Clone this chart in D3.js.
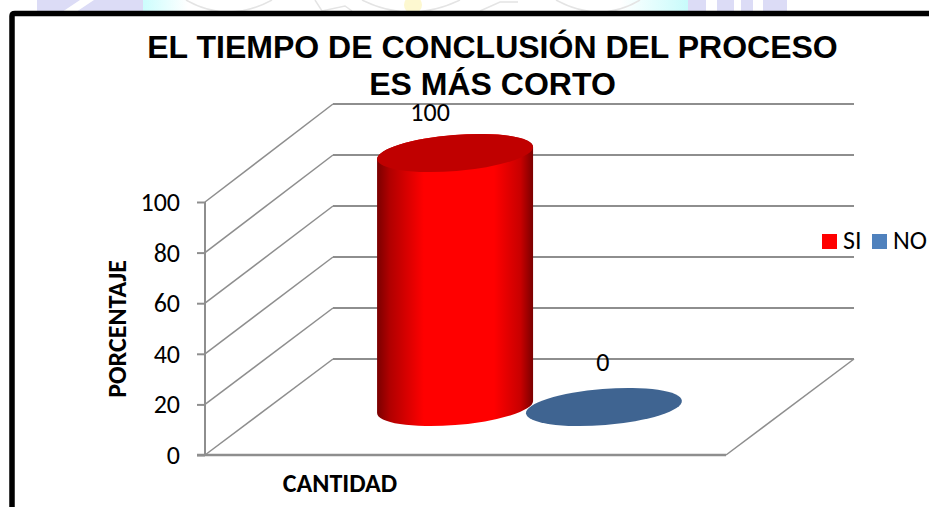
<!DOCTYPE html>
<html><head><meta charset="utf-8">
<script src="https://cdn.jsdelivr.net/npm/d3@7"></script>
<style>html,body{margin:0;padding:0;background:#fff;overflow:hidden}svg{display:block}
text{font-family:Carlito,Calibri,Lato,sans-serif}</style></head><body>
<script>
const titleLines = ["EL TIEMPO DE CONCLUSIÓN DEL PROCESO", "ES MÁS CORTO"];
const category = "CANTIDAD";
const yAxisLabel = "PORCENTAJE";
const seriesNames = ["SI", "NO"];
const seriesValues = [100, 0];
const tickValues = [0, 20, 40, 60, 80, 100];
const sideColors = ["#ff0000", "#4f81bd"];
const capColors = ["#c00000", "#3f6491"];

const W = 929, H = 507;
const svg = d3.select("body").append("svg").attr("width", W).attr("height", H);
const defs = svg.append("defs");

// background picture strip showing above the frame
const fade = defs.append("linearGradient").attr("id","cy1");
fade.append("stop").attr("offset",0).attr("stop-color","#ccfdfd");
fade.append("stop").attr("offset",1).attr("stop-color","#ffffff");
const fade2 = defs.append("linearGradient").attr("id","cy2");
fade2.append("stop").attr("offset",0).attr("stop-color","#ffffff");
fade2.append("stop").attr("offset",1).attr("stop-color","#c8fbfb");
defs.append("clipPath").attr("id","strip").append("rect").attr("width",W).attr("height",12);
const bg = svg.append("g").attr("clip-path","url(#strip)");
bg.append("rect").attr("x",37).attr("width",106).attr("height",12).attr("fill","#dcdcf6");
bg.append("path").attr("d","M62 12L80 0L94 0L76 12Z").attr("fill","#fff");
bg.append("rect").attr("x",143).attr("width",45).attr("height",12).attr("fill","url(#cy1)");
bg.append("rect").attr("x",620).attr("width",68).attr("height",12).attr("fill","url(#cy2)");
[[688,706],[717,734],[741,753],[763,787]].forEach(b=>bg.append("rect").attr("x",b[0]).attr("width",b[1]-b[0]).attr("height",12).attr("fill","#dcdcf6"));
bg.append("ellipse").attr("cx",413).attr("cy",5).attr("rx",9).attr("ry",9).attr("fill","#fdf8d0");
["M186 0Q228 24 272 0","M315 0L322 11L345 6L352 11","M362 0Q410 24 460 0","M480 11L500 2L518 2","M556 0Q600 24 640 0"].forEach(d=>
  bg.append("path").attr("d",d).attr("fill","none").attr("stroke","#e4e4e4").attr("stroke-width",1.5));

// frame
svg.append("path").attr("d","M12 "+(H+5)+"V16Q12 13.5 15 13.5H"+(W+5))
  .attr("fill","none").attr("stroke","#000").attr("stroke-width",5.5);

// scales
const yFront = d3.scaleLinear().domain([0,100]).range([455,202]);
const yBack  = d3.scaleLinear().domain([0,100]).range([359,104]);
const xFront = d3.scaleBand().domain(seriesNames).range([205,726]).paddingInner(0).paddingOuter(0.75);
const depthX = 128;
const grey = "#8e8e8e";
const x0 = xFront.range()[0], x1 = xFront.range()[1];

const grid = svg.append("g").attr("fill","none").attr("stroke",grey);
grid.selectAll("line.d").data(tickValues).join("line").attr("class","d").attr("stroke-width",1.5)
  .attr("x1",x0).attr("y1",v=>yFront(v)).attr("x2",x0+depthX).attr("y2",v=>yBack(v));
grid.selectAll("line.h").data(tickValues).join("line").attr("class","h").attr("stroke-width",2)
  .attr("x1",x0+depthX).attr("y1",v=>yBack(v)).attr("x2",x1+depthX).attr("y2",v=>yBack(v));
grid.append("line").attr("stroke-width",1.5)
  .attr("x1",x1+depthX).attr("y1",yBack(0)).attr("x2",x1).attr("y2",yFront(0));

// axis
const axis = d3.axisLeft(yFront).tickValues(tickValues).tickSize(8).tickPadding(17).tickFormat(d3.format("d"));
const ag = svg.append("g").attr("transform","translate(205,0)").call(axis);
ag.select(".domain").attr("stroke",grey).attr("stroke-width",2).attr("d","M0 202V455");
ag.selectAll(".tick line").attr("stroke",grey).attr("stroke-width",2);
ag.selectAll(".tick text").attr("fill","#000").style("font-size","26px").attr("dy","0.33em");
svg.append("path").attr("d","M197 455H726").attr("stroke",grey).attr("stroke-width",2.4).attr("fill","none");

// cylinders
const RX=78.2, RY=18, TILT=-4.64, TX=78, TY=6;
const grad = defs.append("linearGradient").attr("id","body").attr("gradientUnits","objectBoundingBox");
[[0,"#7a0000"],[0.08,"#b00000"],[0.3,"#ff0000"],[0.75,"#ff0000"],[0.92,"#c80000"],[1,"#7a0000"]]
  .forEach(s=>grad.append("stop").attr("offset",s[0]).attr("stop-color",s[1]));

const yMid = v => (yFront(v)+yBack(v))/2;
const cx = n => xFront(n)+xFront.bandwidth()/2+depthX/2;
const marks = svg.append("g");
seriesNames.forEach((n,i)=>{
  const v=seriesValues[i], c=cx(n), y0=yMid(0), y1=yMid(v);
  if(v>0){
    marks.append("path").attr("fill","url(#body)")
      .attr("d",`M${c-TX} ${y1+TY}L${c-TX} ${y0+TY}A${RX} ${RY} ${TILT} 0 0 ${c+TX} ${y0-TY}L${c+TX} ${y1-TY}A${RX} ${RY} ${TILT} 0 0 ${c-TX} ${y1+TY}Z`);
  }
  marks.append("ellipse").attr("rx",RX).attr("ry",RY)
    .attr("transform",`translate(${c},${y1}) rotate(${TILT})`).attr("fill",capColors[i]);
});

// value labels
svg.selectAll("text.val").data(seriesNames).join("text").attr("class","val")
  .attr("x",(n,i)=>cx(n)+(i===0?-25:-1))
  .attr("y",(n,i)=>yMid(seriesValues[i])+(i===0?-32:-36))
  .attr("text-anchor","middle").attr("fill","#000").style("font-size","26px")
  .text((n,i)=>seriesValues[i]);

// titles
svg.selectAll("text.t").data(titleLines).join("text").attr("class","t")
  .attr("x",492.5).attr("y",(d,i)=>58+i*37).attr("text-anchor","middle")
  .style("font-family","'Liberation Sans',Arial,sans-serif").style("font-weight","700").style("font-size","32px")
  .attr("fill","#000").text(d=>d);
svg.append("text").attr("x",340).attr("y",492).attr("text-anchor","middle")
  .style("font-weight","700").style("font-size","26px").text(category);
svg.append("text").attr("transform","translate(126,329) rotate(-90)").attr("text-anchor","middle")
  .style("font-weight","700").style("font-size","26px").text(yAxisLabel);

// legend
const lx=d3.scaleOrdinal().domain(seriesNames).range([822,872]);
seriesNames.forEach((n,i)=>{
  svg.append("rect").attr("x",lx(n)).attr("y",234).attr("width",15).attr("height",15).attr("fill",sideColors[i]);
  svg.append("text").attr("x",lx(n)+21).attr("y",249).attr("fill","#000").style("font-size","26px").text(n);
});
</script></body></html>
